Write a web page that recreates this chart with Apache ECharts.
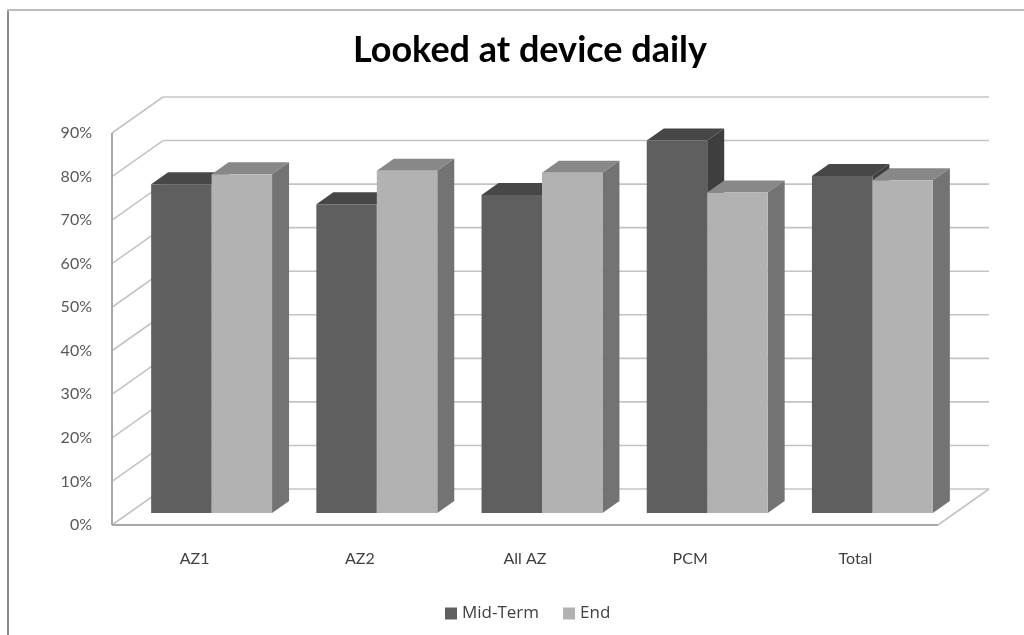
<!DOCTYPE html>
<html>
<head>
<meta charset="utf-8">
<script src="https://cdn.jsdelivr.net/npm/echarts@6/dist/echarts.min.js"></script>
<style>
  html, body { margin: 0; padding: 0; background: #ffffff; }
  #chart { width: 1024px; height: 635px; }
</style>
</head>
<body>
<div id="chart"></div>
<script>
// Share of participants who looked at their device daily
const categories = ['AZ1', 'AZ2', 'All AZ', 'PCM', 'Total'];
const midTerm = [0.755, 0.709, 0.730, 0.855, 0.774];
const endOfTerm = [0.778, 0.786, 0.781, 0.736, 0.764];
const seriesNames = ['Mid-Term', 'End'];
const yTicks = [0, 0.1, 0.2, 0.3, 0.4, 0.5, 0.6, 0.7, 0.8, 0.9];

// Oblique projection of the box depth (pixels); bars sit in the middle third.
const DEPTH = [51, -36];
const BAR_FRACTION = 0.366;
const FONT = 'Lato, "Open Sans", sans-serif';
const LEGEND_FONT = '"Open Sans", Lato, sans-serif';

const palette = [
  { front: '#5f5f5f', top: '#474747', side: '#3e3e3e' },
  { front: '#b2b2b2', top: '#888888', side: '#737373' }
];

// Back wall, left wall and floor of the 3-D box
function renderWalls(params, api) {
  const cs = params.coordSys;
  const L = cs.x, R = cs.x + cs.width;
  const B = api.coord([0, 0])[1];
  const T = api.coord([0, yTicks[yTicks.length - 1]])[1];
  const [dx, dy] = DEPTH;
  const grid = { stroke: '#c4c4c4', lineWidth: 1.6 };
  const edge = { stroke: '#a8a8a8', lineWidth: 2 };
  const children = [];
  yTicks.forEach(function (t) {
    const y = api.coord([0, t])[1];
    children.push({ type: 'line', shape: { x1: L, y1: y, x2: L + dx, y2: y + dy }, style: grid });
    children.push({ type: 'line', shape: { x1: L + dx, y1: y + dy, x2: R + dx, y2: y + dy }, style: grid });
  });
  children.push({ type: 'line', shape: { x1: R, y1: B, x2: R + dx, y2: B + dy }, style: grid });
  children.push({ type: 'line', shape: { x1: L, y1: B, x2: R, y2: B }, style: edge });
  children.push({ type: 'line', shape: { x1: L, y1: B, x2: L, y2: T }, style: edge });
  return { type: 'group', children: children };
}

function makeBarRenderer(side, colors) {
  return function (params, api) {
    const ci = api.value(0);
    const v = api.value(1);
    const topPt = api.coord([ci, v]);
    const basePt = api.coord([ci, 0]);
    const band = api.size([1, 0])[0];
    const w = band * BAR_FRACTION;
    const ox = DEPTH[0] / 3, oy = DEPTH[1] / 3;
    const x0 = topPt[0] + (side === 0 ? -w : 0) + ox;
    const x1 = x0 + w;
    const yT = topPt[1] + oy;
    const yB = basePt[1] + oy;
    return {
      type: 'group',
      children: [
        { type: 'polygon', shape: { points: [[x0, yT], [x1, yT], [x1 + ox, yT + oy], [x0 + ox, yT + oy]] },
          style: { fill: colors.top } },
        { type: 'polygon', shape: { points: [[x1, yT], [x1 + ox, yT + oy], [x1 + ox, yB + oy], [x1, yB]] },
          style: { fill: colors.side } },
        { type: 'rect', shape: { x: x0, y: yT, width: w, height: yB - yT },
          style: { fill: colors.front } }
      ]
    };
  };
}

const chart = echarts.init(document.getElementById('chart'), null, { renderer: 'canvas' });

chart.setOption({
  backgroundColor: '#ffffff',
  animation: false,
  title: {
    text: 'Looked at device daily',
    left: 525,
    top: 27,
    textAlign: 'center',
    textStyle: { fontFamily: FONT, fontWeight: 'bold', fontSize: 36, color: '#000000' }
  },
  legend: {
    data: seriesNames,
    left: 440,
    top: 600,
    icon: 'rect',
    itemWidth: 12,
    itemHeight: 12,
    itemGap: 24,
    textStyle: { fontFamily: LEGEND_FONT, fontSize: 17, color: '#404040' }
  },
  graphic: [
    { type: 'rect', shape: { x: 7, y: 9, width: 2, height: 626 }, style: { fill: '#8c8c8c' } },
    { type: 'rect', shape: { x: 7, y: 9, width: 1017, height: 2 }, style: { fill: '#bdbdbd' } }
  ],
  grid: { left: 112, top: 133, width: 826, height: 392, containLabel: false },
  xAxis: {
    type: 'category',
    data: categories,
    axisLine: { show: false },
    axisTick: { show: false },
    axisLabel: { margin: 26, fontFamily: FONT, fontSize: 16, color: '#404040' }
  },
  yAxis: {
    type: 'value',
    min: 0,
    max: 0.9,
    interval: 0.1,
    axisLine: { show: false },
    axisTick: { show: false },
    splitLine: { show: false },
    axisLabel: {
      margin: 20,
      fontFamily: FONT,
      fontSize: 16,
      color: '#595959',
      formatter: function (v) { return Math.round(v * 100) + '%'; }
    }
  },
  series: [
    {
      type: 'custom',
      name: 'walls',
      silent: true,
      z: 1,
      renderItem: renderWalls,
      data: [[0, 0]],
      encode: { x: 0, y: 1 }
    },
    {
      type: 'custom',
      name: seriesNames[0],
      z: 2,
      itemStyle: { color: palette[0].front },
      renderItem: makeBarRenderer(0, palette[0]),
      data: categories.map(function (c, i) { return [i, midTerm[i]]; }),
      encode: { x: 0, y: 1 }
    },
    {
      type: 'custom',
      name: seriesNames[1],
      z: 3,
      itemStyle: { color: palette[1].front },
      renderItem: makeBarRenderer(1, palette[1]),
      data: categories.map(function (c, i) { return [i, endOfTerm[i]]; }),
      encode: { x: 0, y: 1 }
    }
  ]
});
</script>
</body>
</html>
